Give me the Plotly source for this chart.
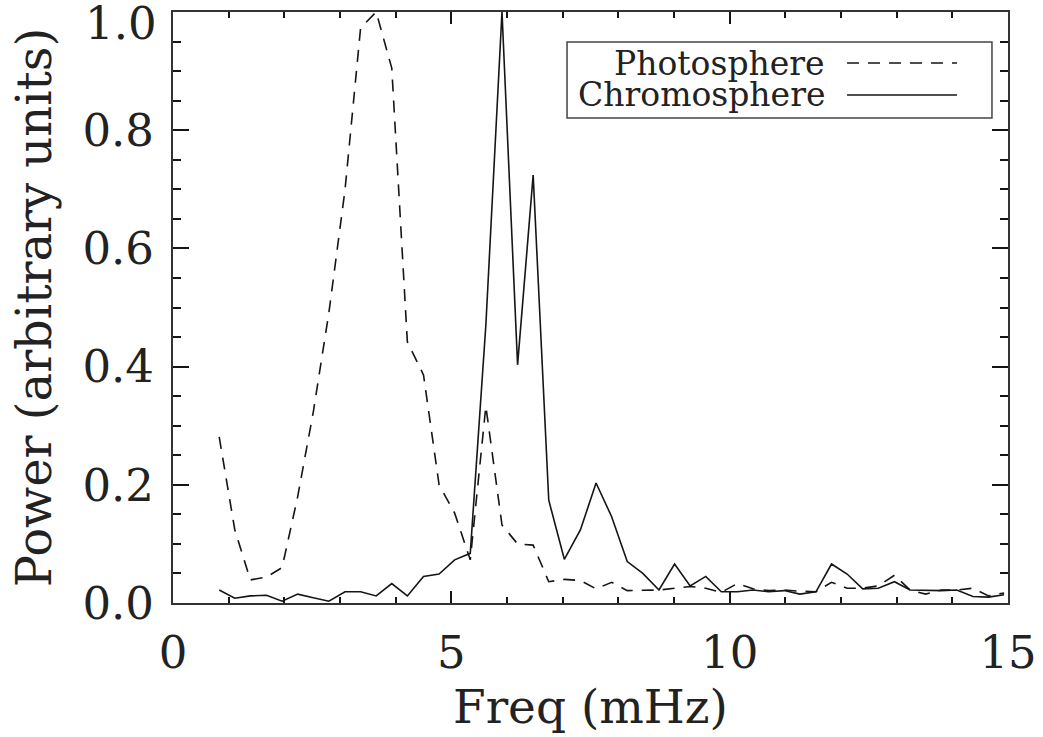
import plotly.graph_objects as go

# Frequency grid (mHz)
freq = [0.83, 1.11, 1.39, 1.68, 1.96, 2.24, 2.52, 2.80, 3.09, 3.37,
        3.65, 3.93, 4.21, 4.50, 4.78, 5.06, 5.34, 5.62, 5.91, 6.19,
        6.47, 6.75, 7.03, 7.32, 7.60, 7.88, 8.16, 8.44, 8.73, 9.01,
        9.29, 9.57, 9.85, 10.14, 10.42, 10.70, 10.98, 11.26, 11.55, 11.83,
        12.11, 12.39, 12.67, 12.96, 13.24, 13.52, 13.80, 14.08, 14.37, 14.65,
        14.93]

# Normalised power spectra
photosphere = [0.281, 0.124, 0.039, 0.044, 0.060, 0.180, 0.323, 0.491, 0.699, 0.973,
               1.000, 0.905, 0.442, 0.386, 0.200, 0.152, 0.073, 0.333, 0.132, 0.100,
               0.098, 0.036, 0.040, 0.038, 0.024, 0.035, 0.021, 0.021, 0.022, 0.025,
               0.028, 0.025, 0.018, 0.033, 0.024, 0.021, 0.022, 0.020, 0.019, 0.035,
               0.025, 0.025, 0.029, 0.047, 0.022, 0.015, 0.022, 0.022, 0.025, 0.012,
               0.017]

chromosphere = [0.022, 0.008, 0.012, 0.013, 0.003, 0.015, 0.009, 0.003, 0.019, 0.019,
                0.012, 0.033, 0.012, 0.045, 0.049, 0.073, 0.084, 0.470, 1.000, 0.403,
                0.724, 0.174, 0.074, 0.124, 0.203, 0.146, 0.070, 0.050, 0.022, 0.066,
                0.029, 0.045, 0.019, 0.019, 0.022, 0.019, 0.021, 0.015, 0.019, 0.066,
                0.049, 0.024, 0.025, 0.036, 0.022, 0.021, 0.021, 0.022, 0.011, 0.010,
                0.014]

series_names = ["Photosphere", "Chromosphere"]
x_ticks = [0, 5, 10, 15]
y_ticks = [0.0, 0.2, 0.4, 0.6, 0.8, 1.0]
y_tick_labels = ["0.0", "0.2", "0.4", "0.6", "0.8", "1.0"]

FONT = "DejaVu Serif"
INK = "#151515"
TEXT = "#222222"
DASH = "12px,9px"

fig = go.Figure()
fig.add_trace(go.Scatter(x=freq, y=photosphere, mode="lines", name=series_names[0],
                         line=dict(color=INK, width=1.6, dash=DASH), showlegend=False))
fig.add_trace(go.Scatter(x=freq, y=chromosphere, mode="lines", name=series_names[1],
                         line=dict(color=INK, width=1.6), showlegend=False))

axis_common = dict(showline=True, linecolor="#333333", linewidth=2, mirror="allticks",
                   ticks="inside", tickcolor=INK, tickwidth=1.5, showgrid=False,
                   zeroline=False, tickfont=dict(family=FONT, size=45, color=TEXT))

fig.update_xaxes(range=[0, 15], tickvals=x_ticks, ticklen=12,
                 minor=dict(dtick=1, ticklen=6, ticks="inside", tickcolor=INK, tickwidth=1.5),
                 title=dict(text="Freq (mHz)", font=dict(family=FONT, size=47, color=TEXT),
                            standoff=0),
                 ticklabelstandoff=9, **axis_common)

# The top label sits at the frame edge; it is placed just below its tick so it stays on the page
axis_labels = [lab if v < max(y_ticks) else " " for v, lab in zip(y_ticks, y_tick_labels)]
fig.update_yaxes(range=[0, 1.0], tickvals=y_ticks, ticktext=axis_labels, ticklen=16,
                 minor=dict(dtick=0.05, ticklen=8, ticks="inside", tickcolor=INK, tickwidth=1.5),
                 title=dict(text="Power (arbitrary units)",
                            font=dict(family=FONT, size=48, color=TEXT), standoff=16),
                 ticklabelstandoff=8, **axis_common)
fig.add_annotation(xref="paper", yref="y", x=0, y=y_ticks[-1], xanchor="right", yanchor="middle",
                   xshift=-14, yshift=-11, text=y_tick_labels[-1], showarrow=False,
                   font=dict(family=FONT, size=45, color=TEXT))

# Legend box drawn in paper coordinates: label text followed by line sample
fig.add_shape(type="rect", xref="paper", yref="paper", x0=0.4719, x1=0.9808, y0=0.8206, y1=0.9492,
              line=dict(color="#444444", width=1.5), fillcolor="white", layer="above")
legend_rows = [(0.9137, DASH), (0.8596, "solid")]
for name, (yrow, dash) in zip(series_names, legend_rows):
    fig.add_annotation(xref="paper", yref="paper", x=0.7832, y=yrow, xanchor="right",
                       yanchor="middle", text=name, showarrow=False,
                       font=dict(family=FONT, size=33, color=TEXT))
    fig.add_shape(type="line", xref="paper", yref="paper", x0=0.8072, x1=0.9389, y0=yrow, y1=yrow,
                  line=dict(color=INK, width=1.5, dash=dash), layer="above")

fig.update_layout(width=1043, height=737, margin=dict(l=173, r=35, t=12, b=134, autoexpand=False),
                  plot_bgcolor="white", paper_bgcolor="white", font=dict(family=FONT))

fig.write_html("out.html")
